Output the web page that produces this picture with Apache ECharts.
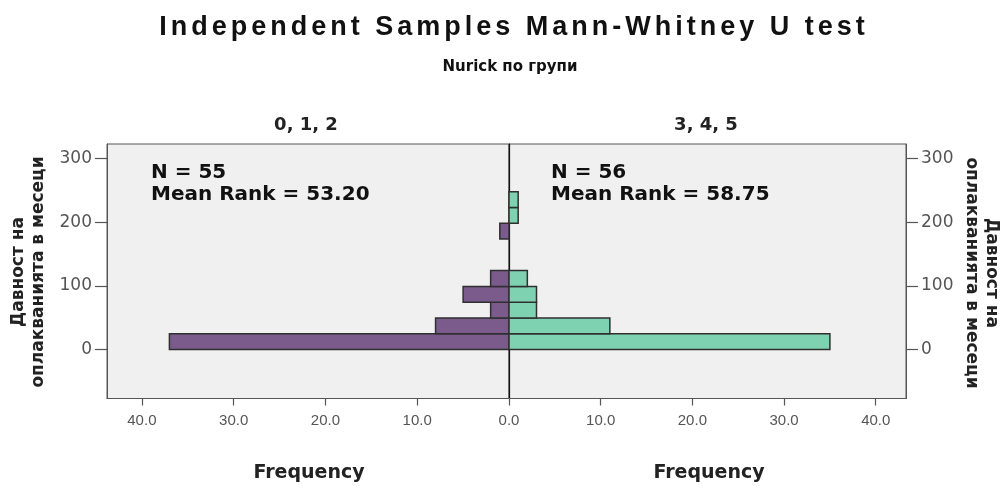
<!DOCTYPE html>
<html>
<head>
<meta charset="utf-8">
<script src="https://cdn.jsdelivr.net/npm/echarts@6/dist/echarts.min.js"></script>
<style>html,body{margin:0;padding:0;background:#fff}#c{width:1005px;height:488px}</style>
</head>
<body>
<div id="c"></div>
<script>
// Histogram bin starts (months) and common bin width
const binStart = [0, 24.8, 49.6, 74.4, 99.2, 124, 148.8, 173.6, 198.4, 223.2];
const binWidth = 24.8;
// Frequencies per bin
const countsLow = [37, 8, 2, 5, 2, 0, 0, 1, 0, 0];   // Nurick 0, 1, 2
const countsHigh = [35, 11, 3, 3, 2, 0, 0, 0, 1, 1]; // Nurick 3, 4, 5
const groupNames = ['0, 1, 2', '3, 4, 5'];
const statsLow = ['N = 55', 'Mean Rank = 53.20'];
const statsHigh = ['N = 56', 'Mean Rank = 58.75'];
const yTicks = [0, 100, 200, 300];
const xTicksLeft = [10, 20, 30, 40];
const xTicksRight = [0, 10, 20, 30, 40];
const titleText = 'Independent Samples Mann-Whitney U test';
const subtitleText = 'Nurick по групи';
const yName = 'Давност на\nоплакванията в месеци';
const xName = 'Frequency';

const purple = '#7b5b8c';
const teal = '#7ed2b2';

// give only the main heading the wide letter spacing of the original
(function () {
  const proto = CanvasRenderingContext2D.prototype;
  const orig = proto.fillText;
  proto.fillText = function (text, x, y, w) {
    if (text === titleText && 'letterSpacing' in this) {
      this.save();
      this.letterSpacing = '4px';
      orig.call(this, text, x + 2, y);
      this.restore();
      return;
    }
    return w === undefined ? orig.call(this, text, x, y) : orig.call(this, text, x, y, w);
  };
})();

function mkData(counts) {
  return binStart.map((s, i) => [s, s + binWidth, counts[i]]);
}
function renderer(color) {
  return function (params, api) {
    const s = api.value(0), e = api.value(1), c = api.value(2);
    if (!c) return null;
    const p1 = api.coord([0, s]);
    const p2 = api.coord([c, e]);
    return {
      type: 'rect',
      shape: {
        x: Math.min(p1[0], p2[0]), y: Math.min(p1[1], p2[1]),
        width: Math.abs(p2[0] - p1[0]), height: Math.abs(p2[1] - p1[1])
      },
      style: { fill: color, stroke: '#2f2f2f', lineWidth: 1.5 }
    };
  };
}

const tickFont = { fontFamily: 'DejaVu Sans', fontSize: 17, color: '#555' };
const xTickFont = { fontFamily: 'Liberation Sans', fontSize: 15, color: '#555' };
const lineCol = '#555';
const tickStyle = { color: '#555', width: 1.2 };
const yBase = { type: 'value', min: -77, max: 323, splitLine: { show: false } };

const chart = echarts.init(document.getElementById('c'), null, { renderer: 'canvas' });
chart.setOption({
  animation: false,
  grid: [
    { left: 107, top: 144, width: 402, height: 254.5, show: true, backgroundColor: '#f0f0f0', borderColor: lineCol, borderWidth: 1 },
    { left: 509, top: 144, width: 397, height: 254.5, show: true, backgroundColor: '#f0f0f0', borderColor: lineCol, borderWidth: 1 }
  ],
  xAxis: [
    {
      gridIndex: 0, type: 'value', inverse: true, min: 0, max: 43.8, position: 'bottom',
      splitLine: { show: false },
      axisLine: { show: true, onZero: false, lineStyle: { color: lineCol, width: 1 } },
      axisTick: { show: true, customValues: xTicksLeft, length: 7, lineStyle: tickStyle },
      axisLabel: Object.assign({ customValues: xTicksLeft, formatter: v => Number(v).toFixed(1), margin: 15 }, xTickFont)
    },
    {
      gridIndex: 1, type: 'value', min: 0, max: 43.3, position: 'bottom',
      splitLine: { show: false },
      axisLine: { show: true, onZero: false, lineStyle: { color: lineCol, width: 1 } },
      axisTick: { show: true, customValues: xTicksRight, length: 7, lineStyle: tickStyle },
      axisLabel: Object.assign({ customValues: xTicksRight, formatter: v => Number(v).toFixed(1), margin: 15 }, xTickFont)
    }
  ],
  yAxis: [
    Object.assign({}, yBase, {
      gridIndex: 0, position: 'left',
      axisLine: { show: true, onZero: false, lineStyle: { color: lineCol } },
      axisTick: { show: true, customValues: yTicks, length: 12, lineStyle: tickStyle },
      axisLabel: Object.assign({ customValues: yTicks, margin: 15 }, tickFont)
    }),
    Object.assign({}, yBase, {
      gridIndex: 1, position: 'left',
      axisLine: { show: true, onZero: false, lineStyle: { color: '#111', width: 1.2 } },
      axisTick: { show: false }, axisLabel: { show: false }
    }),
    Object.assign({}, yBase, {
      gridIndex: 1, position: 'right',
      axisLine: { show: true, onZero: false, lineStyle: { color: lineCol } },
      axisTick: { show: true, customValues: yTicks, length: 12, lineStyle: tickStyle },
      axisLabel: Object.assign({ customValues: yTicks, margin: 15 }, tickFont)
    })
  ],
  series: [
    { type: 'custom', xAxisIndex: 0, yAxisIndex: 0, data: mkData(countsLow), encode: { x: 2, y: [0, 1] }, renderItem: renderer(purple), z: 3 },
    { type: 'custom', xAxisIndex: 1, yAxisIndex: 1, data: mkData(countsHigh), encode: { x: 2, y: [0, 1] }, renderItem: renderer(teal), z: 3 }
  ],
  graphic: [
    { type: 'text', x: 512, y: 28, style: { text: titleText, font: 'bold 27px "Liberation Sans"', fill: '#111', align: 'center', verticalAlign: 'middle' } },
    { type: 'text', x: 510, y: 67, style: { text: subtitleText, font: 'bold 15px "DejaVu Sans"', fill: '#111', align: 'center', verticalAlign: 'middle' } },
    { type: 'text', x: 306, y: 125, style: { text: groupNames[0], font: 'bold 18px "DejaVu Sans"', fill: '#222', align: 'center', verticalAlign: 'middle' } },
    { type: 'text', x: 706, y: 125, style: { text: groupNames[1], font: 'bold 18px "DejaVu Sans"', fill: '#222', align: 'center', verticalAlign: 'middle' } },
    { type: 'text', x: 151, y: 173, z: 10, style: { text: statsLow[0], font: 'bold 20px "DejaVu Sans"', fill: '#111', align: 'left', verticalAlign: 'middle' } },
    { type: 'text', x: 151, y: 195, z: 10, style: { text: statsLow[1], font: 'bold 20px "DejaVu Sans"', fill: '#111', align: 'left', verticalAlign: 'middle' } },
    { type: 'text', x: 551, y: 173, z: 10, style: { text: statsHigh[0], font: 'bold 20px "DejaVu Sans"', fill: '#111', align: 'left', verticalAlign: 'middle' } },
    { type: 'text', x: 551, y: 195, z: 10, style: { text: statsHigh[1], font: 'bold 20px "DejaVu Sans"', fill: '#111', align: 'left', verticalAlign: 'middle' } },
    { type: 'text', x: 309, y: 473, style: { text: xName, font: 'bold 19px "DejaVu Sans"', fill: '#222', align: 'center', verticalAlign: 'middle' } },
    { type: 'text', x: 709, y: 473, style: { text: xName, font: 'bold 19px "DejaVu Sans"', fill: '#222', align: 'center', verticalAlign: 'middle' } },
    { type: 'text', x: 29, y: 272, rotation: Math.PI / 2, style: { text: yName, font: 'bold 17px "DejaVu Sans"', lineHeight: 20, fill: '#222', align: 'center', verticalAlign: 'middle' } },
    { type: 'text', x: 981.5, y: 273, rotation: -Math.PI / 2, style: { text: yName, font: 'bold 17px "DejaVu Sans"', lineHeight: 20, fill: '#222', align: 'center', verticalAlign: 'middle' } }
  ]
});
</script>
</body>
</html>
